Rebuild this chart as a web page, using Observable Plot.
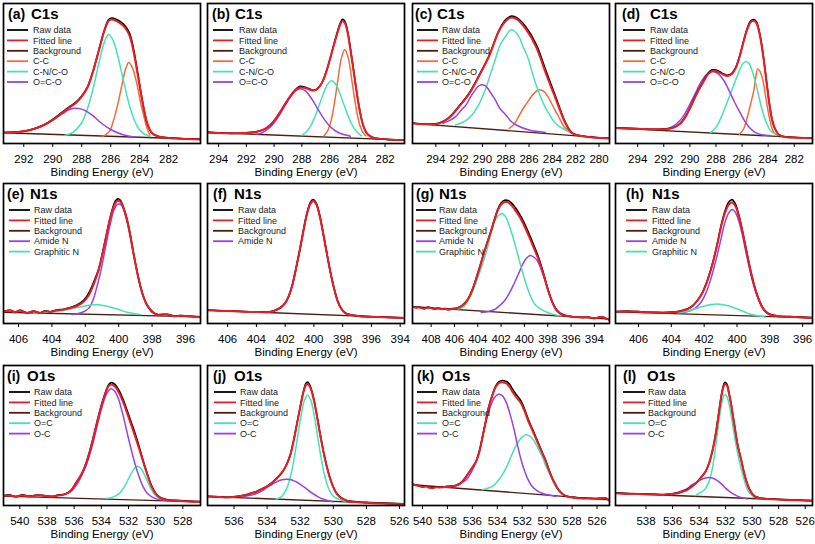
<!DOCTYPE html>
<html><head><meta charset="utf-8">
<script src="https://cdn.jsdelivr.net/npm/d3@7"></script>
<script src="https://cdn.jsdelivr.net/npm/@observablehq/plot@0.6"></script>
<style>
body{margin:0;background:#fff;}
#wrap{position:relative;width:815px;height:544px;overflow:hidden;background:#fff;}
#wrap svg{position:absolute;overflow:visible;}
</style></head><body><div id="wrap"></div>
<script>
// ---------- names ----------
const letters = ["(a)","(b)","(c)","(d)","(e)","(f)","(g)","(h)","(i)","(j)","(k)","(l)"];
const elements = ["C1s","C1s","C1s","C1s","N1s","N1s","N1s","N1s","O1s","O1s","O1s","O1s"];
const baseNames = ["Raw data","Fitted line","Background"];
const c1Names = ["C-C","C-N/C-O","O=C-O"];
const n1Names = ["Amide N","Graphitic N"];
const n1NamesF = ["Amide N"];
const o1Names = ["O=C","O-C"];

// ---------- (a) C1s ----------
const aRange = [293.4, 279.8];
const aTicks = [292,290,288,286,284,282];
const aBg = [[293.4,7.7],[279.8,3.0]];
const aRaw = [[293.4,7.9],[292.2,8.6],[291.3,10.6],[290.6,13.4],[290.0,17.2],[289.3,22.8],[288.8,26.6],[288.4,29.6],[288.0,34],[287.6,40.5],[287.2,52.5],[286.8,67.5],[286.45,80.5],[286.15,88.3],[285.95,89.6],[285.6,88.6],[285.3,86.8],[285.0,84],[284.7,78.8],[284.45,69],[284.2,54.5],[283.95,38.8],[283.7,24.3],[283.45,13.5],[283.15,7.4],[282.7,5],[282,4.1],[279.8,3.0]];
const aFit = [[293.4,7.7],[292.2,8.4],[291.3,10.4],[290.6,13.2],[290.0,16.8],[289.3,22.2],[288.8,26],[288.4,29],[288.0,33.5],[287.6,40],[287.2,52],[286.8,67],[286.45,80],[286.15,87.5],[285.95,88.6],[285.6,87.5],[285.3,85.5],[285.0,82.5],[284.7,77],[284.45,67],[284.2,53],[283.95,38],[283.7,24],[283.45,13.5],[283.15,7.5],[282.7,5],[282,4],[279.8,2.9]];
const aCC = [[286.6,4.8],[286.1,8.5],[285.8,16.7],[285.5,28.5],[285.2,43],[284.95,54],[284.75,57.9],[284.5,54],[284.2,43],[283.95,30],[283.7,19],[283.5,11],[283.3,6]];
const aCN = [[289.2,5.8],[288.6,8],[288.0,15],[287.6,25],[287.2,40],[286.8,58],[286.45,72],[286.15,77.8],[285.85,74],[285.5,62],[285.1,44],[284.7,27],[284.3,15],[283.9,8.5],[283.3,5]];
const aOCO = [[293.4,7.7],[292.2,8.4],[291.3,10.3],[290.6,13],[290.0,16.5],[289.3,21.5],[288.8,24.5],[288.4,25.2],[287.9,24.2],[287.3,20.5],[286.7,15],[286.0,10],[285.3,6.8],[284.4,4.6]];

// ---------- (b) C1s ----------
const bRange = [294.8, 280.6];
const bTicks = [294,292,290,288,286,284,282];
const bBg = [[294.8,7.9],[280.6,2.4]];
const bRaw = [[294.8,8.1],[293.5,7.3],[292.2,7.5],[291.3,8.3],[290.7,10.2],[290.3,13],[289.9,17.5],[289.5,23.5],[289.1,30],[288.7,35.8],[288.35,39.6],[288.1,40.8],[287.8,40.3],[287.5,39.2],[287.2,38],[286.95,38.6],[286.7,41],[286.45,45.5],[286.2,52.5],[285.95,61],[285.7,70.3],[285.45,79.3],[285.25,85.5],[285.06,88.7],[284.9,87.2],[284.7,80.3],[284.5,68],[284.3,54.6],[284.1,40.5],[283.9,27.8],[283.7,17.6],[283.5,10.8],[283.25,6.5],[282.9,4.3],[282.3,3.3],[280.6,2.4]];
const bFit = [[294.8,7.9],[293.5,7.3],[292.2,7.5],[291.3,8.3],[290.7,10.2],[290.3,13],[289.9,17.5],[289.5,23.5],[289.1,30],[288.7,35.5],[288.35,39],[288.1,40],[287.8,39.7],[287.5,38.8],[287.2,37.8],[286.95,38.5],[286.7,41],[286.45,45.5],[286.2,52.5],[285.95,61],[285.7,70],[285.45,78.5],[285.25,84.5],[285.06,87.5],[284.9,86],[284.7,79],[284.5,67],[284.3,54],[284.1,40],[283.9,27.5],[283.7,17.5],[283.5,10.8],[283.25,6.5],[282.9,4.3],[282.3,3.3],[280.6,2.4]];
const bCC = [[286.4,5.5],[286.15,8.8],[285.9,16],[285.65,29],[285.4,45.5],[285.15,61],[284.9,67],[284.65,61],[284.4,45.5],[284.15,29],[283.9,16],[283.65,8.8],[283.4,5.5]];
const bCN = [[288.0,5.8],[287.65,8.6],[287.35,12.8],[287.05,19.3],[286.75,27.3],[286.45,35.6],[286.15,42.1],[285.85,44.8],[285.55,42.1],[285.25,35.6],[284.95,27.3],[284.65,19.3],[284.35,12.8],[284.05,8.4],[283.7,5.5]];
const bOCO = [[291.3,6.6],[290.9,7.5],[290.5,9.9],[290.1,13.6],[289.7,19.0],[289.3,25.5],[288.9,32],[288.5,37.2],[288.1,39.1],[287.7,37.2],[287.3,32],[286.9,25.5],[286.5,19],[286.1,13.6],[285.7,9.9],[285.3,7.5],[284.9,6.2],[284.5,5.2]];

// ---------- (c) C1s ----------
const cRange = [296.0, 279.1];
const cTicks = [294,292,290,288,286,284,282,280];
const cBg = [[296.0,14.4],[279.1,3.6]];
const cRaw = [[296.0,14.6],[294.9,13.9],[293.7,14.6],[292.9,18.3],[292.0,26.8],[291.1,36.5],[290.3,48.5],[289.4,63.3],[288.6,80.5],[288.0,88.5],[287.5,91],[287.0,89.5],[286.3,83.5],[285.4,71],[284.6,53],[283.7,33],[282.9,15.3],[282.3,7.6],[281.1,5],[279.1,3.7]];
const cFit = [[296.0,14.4],[294.9,13.7],[293.7,14.4],[292.9,18],[292.0,26.4],[291.1,36],[290.3,48],[289.4,63],[288.6,80],[288.0,87.5],[287.5,90],[287.0,88.5],[286.3,82],[285.4,69],[284.6,51],[283.7,31.5],[282.9,14.8],[282.3,7.4],[281.1,4.8],[279.1,3.6]];
const cCC = [[287.7,10.8],[287.3,13.5],[286.9,19.2],[286.5,25],[286.0,31.2],[285.5,36.5],[285.1,38.4],[284.7,37],[284.4,33.6],[284.0,27.5],[283.7,22.8],[283.3,16.5],[283.0,12],[282.6,9],[282.3,7.2]];
const cCN = [[292.3,13.2],[291.5,16],[290.9,20.4],[290.3,28],[289.7,39.6],[289.3,50],[288.9,60],[288.5,70],[288.1,75.5],[287.5,81.5],[286.9,76.7],[286.5,69],[286.1,61.2],[285.7,50],[285.3,39.6],[284.8,29],[284.4,22.8],[283.9,16],[283.4,12],[282.3,7.2]];
const cOCO = [[293.4,14.4],[292.8,16.5],[292.3,19.2],[291.8,24],[291.4,27.6],[291.0,33.5],[290.7,37.2],[290.4,40.5],[290.1,42],[289.8,41.5],[289.6,40],[289.2,35],[288.9,31.2],[288.5,25],[288.0,20.4],[287.5,15.5],[287.1,13.2],[286.0,9.6],[284.6,7.9]];

// ---------- (d) C1s ----------
const dRange = [295.7, 280.6];
const dTicks = [294,292,290,288,286,284,282];
const dBg = [[295.7,11.0],[280.6,3.8]];
const dRaw = [[295.7,11.2],[294.5,10.8],[293.5,10.4],[292.5,10.2],[291.7,10.5],[291.2,11.6],[290.9,13.2],[290.6,15.8],[290.3,19.8],[290.0,25.3],[289.7,31.3],[289.3,39],[288.9,45.6],[288.6,50.3],[288.3,52.6],[288.0,52.4],[287.7,51.2],[287.4,49.6],[287.1,48.8],[286.8,50],[286.5,54],[286.2,62],[285.9,72.6],[285.6,82.3],[285.35,87.5],[285.1,88.6],[284.9,87],[284.7,81],[284.5,71],[284.3,57.6],[284.1,42.5],[283.9,28.3],[283.7,17.2],[283.5,11.1],[283.2,6.6],[282.8,4.9],[282.0,4.3],[280.6,3.9]];
const dFit = [[295.7,11],[294.5,10.6],[293.5,10.3],[292.5,10.1],[291.7,10.4],[291.2,11.5],[290.9,13],[290.6,15.5],[290.3,19.5],[290.0,25],[289.7,31],[289.3,38.5],[288.9,45],[288.6,49.5],[288.3,51.7],[288.0,51.6],[287.7,50.5],[287.4,49],[287.1,48.3],[286.8,49.5],[286.5,53.5],[286.2,61.5],[285.9,72],[285.6,81.5],[285.35,86.5],[285.1,87.6],[284.9,86],[284.7,80],[284.5,70],[284.3,57],[284.1,42],[283.9,28],[283.7,17],[283.5,11],[283.2,6.5],[282.8,4.8],[282.0,4.2],[280.6,3.8]];
const dCC = [[286.2,6.7],[285.9,10],[285.6,18.7],[285.35,28],[285.1,37.8],[284.95,47],[284.8,53.3],[284.6,51],[284.4,45],[284.2,34],[284.0,23],[283.8,14],[283.6,8.5],[283.3,5.5]];
const dCN = [[288.4,7.9],[288.0,11.5],[287.6,18.7],[287.2,28],[286.9,35.4],[286.5,45],[286.2,52.2],[285.95,57],[285.7,58.6],[285.45,57],[285.2,51],[284.9,41],[284.7,33],[284.4,22],[284.1,14],[283.8,9],[283.4,6.5]];
const dOCO = [[292.2,10.3],[291.6,11],[291.2,12.7],[290.8,16],[290.4,21],[290.0,28],[289.6,35.5],[289.2,43],[288.8,48.5],[288.4,51],[288.1,51],[287.8,49.5],[287.4,45],[287.0,38],[286.6,30],[286.2,23],[285.8,16],[285.4,11],[285.0,8],[284.5,6.3],[283.8,5.5]];

// ---------- (e) N1s ----------
const eRange = [406.9, 395.1];
const eTicks = [406,404,402,400,398,396];
const eBg = [[406.9,8.0],[395.1,4.7]];
const eRaw = [[406.9,8.5],[406.5,9.4],[406.2,8.2],[405.9,9.4],[405.5,7.7],[405.1,8.9],[404.7,7.7],[404.4,9],[404.1,8.4],[403.7,9.6],[403.3,10.2],[402.9,11.5],[402.5,13.2],[402.1,16.5],[401.8,21.5],[401.5,29.5],[401.2,39],[400.95,51.5],[400.7,65.5],[400.45,78.5],[400.2,87.5],[400.05,89],[399.9,88],[399.7,82.5],[399.5,74.5],[399.3,63],[399.1,49.5],[398.9,37.3],[398.7,26.8],[398.5,18.7],[398.3,13.2],[398.0,8.7],[397.7,6.4],[397.4,6.5],[397.1,6.6],[396.7,5.4],[396.3,5.7],[395.9,5.4],[395.1,4.7]];
const eFit = [[406.9,8.3],[406.5,9.2],[406.2,8],[405.9,9.2],[405.5,7.5],[405.1,8.7],[404.7,7.5],[404.4,8.8],[404.1,8.2],[403.7,9.4],[403.3,9.9],[402.9,11.1],[402.5,12.5],[402.1,15.5],[401.8,20],[401.5,28],[401.2,38],[400.95,51],[400.7,65],[400.45,78],[400.2,86],[400.05,87.7],[399.9,87],[399.7,82],[399.5,74],[399.3,62.5],[399.1,49],[398.9,37],[398.7,26.5],[398.5,18.5],[398.3,13],[398.0,8.5],[397.7,6.2],[397.4,6.3],[397.1,6.4],[396.7,5.2],[396.3,5.5],[395.9,5.2],[395.1,4.5]];
const eAmide = [[402.8,6.4],[402.3,7.5],[402.0,9],[401.75,11.5],[401.5,18],[401.3,26.4],[401.1,36],[400.9,47.6],[400.7,60],[400.5,71.2],[400.3,80.5],[400.1,84.9],[399.95,85.4],[399.8,84],[399.6,77.1],[399.4,67.5],[399.2,55],[399.0,43],[398.8,31],[398.6,22],[398.4,15.5],[398.2,11],[398.0,8],[397.7,6.6],[397.4,6.1]];
const eGraph = [[405.1,7.5],[404.1,8.3],[403.1,9.9],[402.3,11.8],[401.7,13.2],[401.2,13.4],[400.7,12.3],[400.1,10.4],[399.5,8],[398.7,6.4]];

// ---------- (f) N1s ----------
const fRange = [407.4, 393.7];
const fTicks = [406,404,402,400,398,396,394];
const fBg = [[407.4,9.5],[393.7,4.0]];
const fRaw = [[407.4,9.6],[406.3,9.1],[405.2,8.7],[404.2,8.3],[403.4,8.2],[402.9,8.7],[402.6,9.9],[402.3,11.6],[402.0,14.6],[401.75,19.6],[401.5,27.6],[401.25,39.2],[401.0,51.8],[400.75,65.5],[400.5,78],[400.25,86.5],[400.05,88.6],[399.85,86.3],[399.6,77.5],[399.35,64.3],[399.1,50.2],[398.85,36.6],[398.6,25.1],[398.35,16.1],[398.1,10.6],[397.8,7.4],[397.4,6.1],[396.8,5.3],[395.5,4.7],[393.7,4.0]];
const fFit = [[407.4,9.5],[406.3,9.0],[405.2,8.6],[404.2,8.2],[403.4,8.1],[402.9,8.6],[402.6,9.8],[402.3,11.5],[402.0,14.5],[401.75,19.5],[401.5,27.5],[401.25,39],[401.0,51.5],[400.75,65],[400.5,77.5],[400.25,85.5],[400.05,87.7],[399.85,85.5],[399.6,77],[399.35,64],[399.1,50],[398.85,36.5],[398.6,25],[398.35,16],[398.1,10.5],[397.8,7.3],[397.4,6],[396.8,5.2],[395.5,4.6],[393.7,3.9]];
const fAmide = [[402.9,8.4],[402.6,9.6],[402.3,11.2],[402.0,14.2],[401.75,19.2],[401.5,27.2],[401.25,38.7],[401.0,51.2],[400.75,64.7],[400.5,77.2],[400.25,85.2],[400.05,87.4],[399.85,85.2],[399.6,76.8],[399.35,63.9],[399.1,50],[398.85,36.6],[398.6,25.2],[398.35,16.3],[398.1,10.8],[397.8,7.6],[397.4,6.0],[397.0,5.3]];

// ---------- (g) N1s ----------
const gRange = [409.6, 392.7];
const gTicks = [408,406,404,402,400,398,396,394];
const gBg = [[409.6,12.0],[392.7,3.1]];
const gRaw = [[409.6,12.2],[409.3,11.4],[409.0,11.7],[408.6,10.7],[408.3,11.7],[408.0,11.2],[407.7,10.4],[407.4,11],[407.1,10.4],[406.8,10.7],[406.5,10],[406.2,10.6],[405.9,10.8],[405.6,11.7],[405.3,13.2],[405.0,15.7],[404.7,19.7],[404.4,25.7],[404.1,33.2],[403.8,41.2],[403.5,49.7],[403.2,57.7],[402.9,65.3],[402.6,73.5],[402.3,81.2],[402.0,86],[401.7,88],[401.4,87.8],[401.1,86],[400.8,83],[400.4,78],[400.0,71.5],[399.6,64],[399.2,56],[398.8,47.5],[398.4,37],[398.0,25],[397.6,15.3],[397.2,9.1],[396.7,6.1],[396.2,5.4],[395.7,4.7],[395.0,4.4],[394.5,4.6],[394.0,3.7],[393.6,4.5],[393.3,4.7],[393.0,3.6],[392.7,2.6]];
const gFit = [[409.6,12],[409.3,11.2],[409.0,11.5],[408.6,10.5],[408.3,11.5],[408.0,11],[407.7,10.2],[407.4,10.8],[407.1,10.2],[406.8,10.5],[406.5,9.8],[406.2,10.4],[405.9,10.6],[405.6,11.5],[405.3,13],[405.0,15.5],[404.7,19.5],[404.4,25.5],[404.1,33],[403.8,41],[403.5,49.5],[403.2,57.5],[402.9,65],[402.6,73],[402.3,80.5],[402.0,85],[401.7,86.8],[401.4,86.5],[401.1,84.4],[400.8,81],[400.4,76],[400.0,69.5],[399.6,62],[399.2,54],[398.8,46],[398.4,36],[398.0,24.5],[397.6,15],[397.2,9],[396.7,6],[396.2,5.3],[395.7,4.6],[395.0,4.3],[394.5,4.5],[394.0,3.6],[393.6,4.4],[393.3,4.6],[393.0,3.5],[392.7,2.5]];
const gAmide = [[403.7,7.9],[403.0,8.8],[402.5,10.3],[402.1,13],[401.7,16.3],[401.3,21.5],[400.9,28.2],[400.5,35.5],[400.2,41.4],[399.85,46.5],[399.5,48.6],[399.2,47.5],[398.9,45],[398.6,39.5],[398.2,30],[397.9,22],[397.5,13.5],[397.1,8.8],[396.7,6.6],[396.2,5.2],[395.6,4.3]];
const gGraph = [[405.7,10.3],[405.3,11.5],[405.0,13.9],[404.7,18.5],[404.3,25.8],[403.9,35],[403.5,45],[403.1,56],[402.8,66.5],[402.5,74],[402.2,77.3],[401.9,78.5],[401.6,76],[401.3,70],[400.9,59.3],[400.5,47],[400.2,37.8],[399.85,28],[399.5,19.9],[399.1,13.5],[398.6,10.3],[397.6,6.7],[396.8,5.5]];

// ---------- (h) N1s ----------
const hRange = [407.4, 395.4];
const hTicks = [406,404,402,400,398,396];
const hBg = [[407.4,8.3],[395.4,4.0]];
const hRaw = [[407.4,8.5],[406.5,8.8],[405.7,8.3],[405.0,8],[404.5,7.8],[404.0,8.1],[403.6,8.6],[403.3,9.4],[403.0,10.5],[402.7,12.7],[402.4,16.7],[402.1,22.3],[401.8,31],[401.5,42.5],[401.2,57],[400.95,71],[400.7,81.5],[400.5,86.8],[400.3,88.5],[400.1,85.5],[399.9,78],[399.7,68],[399.5,56.5],[399.3,45],[399.1,34.3],[398.9,25.2],[398.7,18.2],[398.5,12.7],[398.3,9.2],[398.0,6.6],[397.5,5.4],[396.5,4.8],[395.4,4.2]];
const hFit = [[407.4,8.3],[406.5,8.6],[405.7,8.1],[405.0,7.8],[404.5,7.6],[404.0,7.9],[403.6,8.4],[403.3,9.2],[403.0,10.3],[402.7,12.5],[402.4,16.5],[402.1,22],[401.8,30.5],[401.5,42],[401.2,56.5],[400.95,70],[400.7,80],[400.5,85],[400.3,86.5],[400.1,84],[399.9,77],[399.7,67.5],[399.5,56],[399.3,44.5],[399.1,34],[398.9,25],[398.7,18],[398.5,12.5],[398.3,9],[398.0,6.4],[397.5,5.2],[396.5,4.6],[395.4,4.0]];
const hAmide = [[403.6,7.6],[403.0,8.6],[402.6,10.5],[402.2,15],[401.9,21.5],[401.6,31.5],[401.3,44.5],[401.0,59],[400.75,71.5],[400.5,79],[400.3,81.5],[400.1,79.5],[399.9,73.5],[399.7,64.5],[399.5,53.5],[399.3,42.5],[399.1,32.5],[398.9,24],[398.7,17.3],[398.5,12],[398.3,8.8],[398.0,6.3],[397.6,5.4]];
const hGraph = [[403.6,7.6],[402.8,9.5],[402.2,11.8],[401.6,13.5],[401.2,14],[400.6,12.8],[399.9,10],[399.1,6.4],[398.3,4.7]];

// ---------- (i) O1s ----------
const iRange = [541.2, 526.7];
const iTicks = [540,538,536,534,532,530,528];
const iBg = [[541.2,6.7],[526.7,2.6]];
const iRaw = [[541.2,6.9],[540.8,7.6],[540.3,6.4],[539.8,7.6],[539.4,6.7],[539.1,7],[538.7,7.5],[538.3,7.2],[537.9,6.7],[537.6,6.5],[537.2,7.4],[536.8,7.8],[536.5,9],[536.2,11.2],[535.9,15.7],[535.5,21.7],[535.2,28.2],[534.9,37.2],[534.6,48.2],[534.3,60.3],[534.0,71.5],[533.7,80.7],[533.45,86.5],[533.25,87.8],[533.0,86.5],[532.7,82.2],[532.4,75.8],[532.1,67.8],[531.8,59.5],[531.5,51],[531.2,41.5],[530.9,31.5],[530.6,22.2],[530.3,14],[530.0,8.8],[529.7,6],[529.2,4.2],[528.2,3.5],[526.7,2.8]];
const iFit = [[541.2,6.7],[540.8,7.4],[540.3,6.2],[539.8,7.4],[539.4,6.5],[539.1,6.8],[538.7,7.3],[538.3,7.0],[537.9,6.5],[537.6,6.3],[537.2,7.2],[536.8,7.6],[536.5,8.8],[536.2,11],[535.9,15.5],[535.5,21.5],[535.2,28],[534.9,37],[534.6,48],[534.3,60],[534.0,71],[533.7,80],[533.45,85.5],[533.25,86.5],[533.0,85],[532.7,80.5],[532.4,74],[532.1,66],[531.8,57.5],[531.5,49],[531.2,40],[530.9,30.5],[530.6,21.5],[530.3,13.5],[530.0,8.5],[529.7,5.8],[529.2,4],[528.2,3.3],[526.7,2.6]];
const iOeqC = [[533.6,5],[533.1,6.2],[532.7,8.5],[532.3,13.5],[532.0,19],[531.7,24.5],[531.4,28],[531.1,26.5],[530.8,21.5],[530.5,15],[530.2,9.5],[529.9,6.2],[529.4,4.3]];
const iOC = [[537.1,7.4],[536.6,8.2],[536.3,9.5],[536.0,12.5],[535.7,16.5],[535.4,22.5],[535.1,29],[534.8,38],[534.5,49],[534.2,61],[533.9,72],[533.6,80],[533.3,83.4],[533.0,81.5],[532.7,75],[532.4,64.4],[532.1,52],[531.8,40],[531.5,29],[531.2,20],[530.9,13],[530.6,8.5],[530.2,5.6],[529.7,4.2],[529.3,3.8]];

// ---------- (j) O1s ----------
const jRange = [537.6, 525.7];
const jTicks = [536,534,532,530,528,526];
const jBg = [[537.6,6.4],[525.7,1.0]];
const jRaw = [[537.6,6.6],[536.9,6.2],[536.4,5.9],[535.9,6.4],[535.4,7.3],[535.0,8.7],[534.6,10.2],[534.3,12],[534.0,13.8],[533.7,16.4],[533.4,19.7],[533.1,23.7],[532.85,28.7],[532.6,36.3],[532.4,46.3],[532.2,58.3],[532.0,70.5],[531.8,81.8],[531.65,87.3],[531.55,88.2],[531.4,85.5],[531.2,77.2],[531.0,65],[530.8,51.4],[530.6,38.8],[530.4,28.2],[530.2,19.7],[530.0,13.2],[529.8,8.7],[529.6,6.2],[529.3,4.2],[529.0,3.1],[528.0,2.2],[525.7,1.2]];
const jFit = [[537.6,6.4],[536.9,6.0],[536.4,5.7],[535.9,6.2],[535.4,7.1],[535.0,8.5],[534.6,10],[534.3,11.8],[534.0,13.6],[533.7,16.2],[533.4,19.5],[533.1,23.5],[532.85,28.5],[532.6,36],[532.4,46],[532.2,58],[532.0,70],[531.8,81],[531.65,86],[531.55,86.7],[531.4,84.5],[531.2,76.5],[531.0,64.5],[530.8,51],[530.6,38.5],[530.4,28],[530.2,19.5],[530.0,13],[529.8,8.5],[529.6,6],[529.3,4],[529.0,2.9],[528.0,2],[525.7,1.0]];
const jOeqC = [[533.45,4.5],[533.15,6.2],[532.95,9],[532.75,14.1],[532.55,22.7],[532.35,34.8],[532.15,49.5],[531.95,64],[531.75,75],[531.55,79],[531.35,75],[531.15,64],[530.95,49.5],[530.75,34.8],[530.55,22.7],[530.35,14.1],[530.15,9],[529.95,6.2],[529.65,4.5],[529.3,3]];
const jOC = [[535.4,6.4],[535.0,7.3],[534.6,8.8],[534.3,10.5],[534.0,12.9],[533.7,15],[533.4,17.1],[533.1,18.4],[532.8,18.8],[532.5,18.2],[532.2,16.6],[531.9,14.3],[531.6,11.7],[531.3,9],[531.0,6.8],[530.6,4.5],[530.0,2.6]];

// ---------- (k) O1s ----------
const kRange = [540.8, 525.0];
const kTicks = [540,538,536,534,532,530,528,526];
const kBg = [[540.8,14.8],[525.0,4.0]];
const kRaw = [[540.8,15.4],[540.5,14.6],[540.3,14.2],[540.0,13.5],[539.7,13.8],[539.4,12.8],[539.2,12.6],[538.9,13.3],[538.7,13.1],[538.3,13.4],[537.9,13.8],[537.6,13.9],[537.3,14.5],[537.0,15.7],[536.8,17.3],[536.5,20.7],[536.3,23.3],[536.0,27.2],[535.7,31.6],[535.45,38.2],[535.2,48.3],[534.95,59.2],[534.7,69.8],[534.4,79],[534.1,85.8],[533.85,88.5],[533.6,89.3],[533.4,89],[533.2,88.2],[533.0,86.5],[532.8,83.5],[532.5,79.5],[532.1,74.8],[531.8,68.5],[531.5,61.2],[531.15,54],[530.8,46.5],[530.45,39],[530.1,31.8],[529.85,25.3],[529.6,19.7],[529.35,15.2],[529.1,11.4],[528.75,8.2],[528.4,6.6],[527.9,5.8],[527.5,5.4],[526.8,5.2],[526.1,5],[525.7,5.2],[525.3,5.4],[525.0,3.5]];
const kFit = [[540.8,15.2],[540.5,14.4],[540.3,14],[540.0,13.3],[539.7,13.6],[539.4,12.6],[539.2,12.4],[538.9,13.1],[538.7,12.9],[538.3,13.2],[537.9,13.6],[537.6,13.7],[537.3,14.3],[537.0,15.5],[536.8,17.1],[536.5,20.5],[536.3,23.1],[536.0,27],[535.7,31.4],[535.45,38],[535.2,48.1],[534.95,59],[534.7,69.5],[534.4,78.5],[534.1,85],[533.85,87.5],[533.6,88.1],[533.4,87.6],[533.2,86.7],[533.0,84.5],[532.8,81.4],[532.5,77.5],[532.1,73.1],[531.8,67],[531.5,60],[531.15,53],[530.8,45.7],[530.45,38.5],[530.1,31.4],[529.85,25],[529.6,19.5],[529.35,15],[529.1,11.2],[528.75,8],[528.4,6.4],[527.9,5.6],[527.5,5.2],[526.8,5.0],[526.1,4.8],[525.7,5.0],[525.3,5.2],[525.0,3.3]];
const kOeqC = [[535.2,11.2],[534.4,13.6],[534.0,17],[533.6,21.9],[533.2,28.5],[532.9,35],[532.6,41],[532.3,45.7],[532.0,49],[531.7,50.5],[531.4,49.5],[531.1,46.9],[530.8,42],[530.4,35],[530.1,28],[529.7,20.7],[529.4,15],[529.1,11.2],[528.7,8],[528.3,6.4],[527.5,5.2]];
const kOC = [[538.4,12.9],[537.3,14.3],[536.9,16],[536.5,18.3],[536.1,23.5],[535.7,31.4],[535.4,40.5],[535.1,52.9],[534.8,63.5],[534.5,72],[534.2,77.5],[533.9,79.5],[533.6,78.5],[533.3,74],[533.0,66],[532.7,56],[532.4,44],[532.1,33],[531.8,24.3],[531.5,18],[531.2,13.6],[530.8,10.5],[530.4,8.8],[529.3,6.4]];

// ---------- (l) O1s ----------
const lRange = [540.3, 525.45];
const lTicks = [538,536,534,532,530,528,526];
const lBg = [[540.3,8.8],[525.45,3.3]];
const lRaw = [[540.3,9],[539.2,8.5],[538.1,8.3],[537.2,8],[536.6,7.8],[536.1,8.4],[535.6,9],[535.2,10.2],[534.9,11.4],[534.5,14],[534.1,17.3],[533.8,20.7],[533.5,24.5],[533.25,30.2],[533.0,38.8],[532.8,48.3],[532.6,60.4],[532.45,70.5],[532.3,79.8],[532.15,86.3],[532.05,88],[531.9,86.6],[531.75,80.6],[531.6,73.4],[531.45,64.3],[531.3,55.5],[531.1,43.8],[530.8,31.6],[530.55,21.2],[530.3,13.8],[530.05,9.2],[529.8,6.6],[529.4,5.3],[529.1,5],[527.5,4.2],[525.45,3.5]];
const lFit = [[540.3,8.8],[539.2,8.3],[538.1,8.1],[537.2,7.8],[536.6,7.6],[536.1,8.2],[535.6,8.8],[535.2,10],[534.9,11.2],[534.5,13.8],[534.1,17.1],[533.8,20.5],[533.5,24.3],[533.25,30],[533.0,38.6],[532.8,48],[532.6,60],[532.45,70],[532.3,79],[532.15,85],[532.05,86.7],[531.9,85.7],[531.75,80],[531.6,73],[531.45,64],[531.3,55.2],[531.1,43.5],[530.8,31.4],[530.55,21],[530.3,13.6],[530.05,9],[529.8,6.4],[529.4,5.1],[529.1,4.8],[527.5,4],[525.45,3.3]];
const lOeqC = [[534.3,7.1],[533.6,11.2],[533.3,16],[533.1,21.9],[532.9,32],[532.7,45.7],[532.55,57],[532.4,67.1],[532.25,75],[532.1,79],[531.95,78.5],[531.8,75],[531.65,68],[531.5,59.5],[531.35,50.5],[531.15,40],[530.9,29],[530.6,18.5],[530.4,12.4],[530.15,8.5],[529.9,6.4],[529.3,4.8]];
const lOC = [[536.1,7.6],[535.4,10],[534.9,12],[534.6,14.3],[534.2,16.5],[533.9,18.3],[533.6,19.5],[533.3,20],[533.0,19.6],[532.6,17.6],[532.3,15.3],[532.0,12.4],[531.7,10],[531.3,7.6],[530.9,6],[530.4,4.8]];

// ---------- styling & layout ----------
const RED = "#ec1c24", BLACK = "#000000", BROWN = "#4b1f0f";
const ORANGE = "#f36a3c", GREEN = "#44e3b2", PURPLE = "#9b40e3";
const FONT = "'Liberation Sans', Arial, Helvetica, sans-serif";

const colX = [3, 207, 412, 615];
const rowY = [3, 183, 365];
const W = 197, H = 140;
const mL = 2, mR = 2, mT = 2, mB = 42;

const panels = [
  {range:aRange, ticks:aTicks, bg:aBg, raw:aRaw, fit:aFit, comps:[aCC,aCN,aOCO], names:c1Names, cols:[ORANGE,GREEN,PURPLE], tx:[5,28], lx:[4,25,30]},
  {range:bRange, ticks:bTicks, bg:bBg, raw:bRaw, fit:bFit, comps:[bCC,bCN,bOCO], names:c1Names, cols:[ORANGE,GREEN,PURPLE], tx:[5,28], lx:[6,26,32]},
  {range:cRange, ticks:cTicks, bg:cBg, raw:cRaw, fit:cFit, comps:[cCC,cCN,cOCO], names:c1Names, cols:[ORANGE,GREEN,PURPLE], tx:[3,25], lx:[5,26,30]},
  {range:dRange, ticks:dTicks, bg:dBg, raw:dRaw, fit:dFit, comps:[dCC,dCN,dOCO], names:c1Names, cols:[ORANGE,GREEN,PURPLE], tx:[7,35], lx:[8,30,35]},
  {range:eRange, ticks:eTicks, bg:eBg, raw:eRaw, fit:eFit, comps:[eAmide,eGraph], names:n1Names, cols:[PURPLE,GREEN], tx:[4,27], lx:[6,27,31]},
  {range:fRange, ticks:fTicks, bg:fBg, raw:fRaw, fit:fFit, comps:[fAmide], names:n1NamesF, cols:[PURPLE], tx:[6,27], lx:[6,26,31]},
  {range:gRange, ticks:gTicks, bg:gBg, raw:gRaw, fit:gFit, comps:[gAmide,gGraph], names:n1Names, cols:[PURPLE,GREEN], tx:[4,27], lx:[4,24,27]},
  {range:hRange, ticks:hTicks, bg:hBg, raw:hRaw, fit:hFit, comps:[hAmide,hGraph], names:n1Names, cols:[PURPLE,GREEN], tx:[11,37], lx:[11,32,37]},
  {range:iRange, ticks:iTicks, bg:iBg, raw:iRaw, fit:iFit, comps:[iOeqC,iOC], names:o1Names, cols:[GREEN,PURPLE], tx:[4,24], lx:[6,27,31]},
  {range:jRange, ticks:jTicks, bg:jBg, raw:jRaw, fit:jFit, comps:[jOeqC,jOC], names:o1Names, cols:[GREEN,PURPLE], tx:[6,27], lx:[7,29,33]},
  {range:kRange, ticks:kTicks, bg:kBg, raw:kRaw, fit:kFit, comps:[kOeqC,kOC], names:o1Names, cols:[GREEN,PURPLE], tx:[5,30], lx:[5,25,30]},
  {range:lRange, ticks:lTicks, bg:lBg, raw:lRaw, fit:lFit, comps:[lOeqC,lOC], names:o1Names, cols:[GREEN,PURPLE], tx:[8,32], lx:[8,30,33]}
];

const wrap = document.getElementById("wrap");
const px = d => d[0], py = d => d[1];

panels.forEach((p, idx) => {
  const col = idx % 4, row = Math.floor(idx / 4);
  const lineOpts = (stroke, w) => ({x: px, y: py, stroke, strokeWidth: w, curve: "catmull-rom", clip: true});
  const marks = [
    Plot.line(p.bg, lineOpts(BROWN, 1.4)),
    ...p.comps.map((c, k) => Plot.line(c, lineOpts(p.cols[k], 1.5))),
    Plot.line(p.raw, lineOpts(BLACK, 1.6)),
    Plot.line(p.fit, lineOpts(RED, 2)),
    Plot.axisX({ticks: p.ticks, tickSize: 4, tickPadding: 7, fontSize: 11.5, label: null, tickFormat: d => String(d)}),
    Plot.text(["Binding Energy (eV)"], {frameAnchor: "bottom", dy: 32, fontSize: 11.5, fill: "#000"}),
    Plot.frame({stroke: "#000", strokeWidth: 1.7})
  ];
  const svg = Plot.plot({
    width: W + mL + mR, height: H + mT + mB,
    marginLeft: mL, marginRight: mR, marginTop: mT, marginBottom: mB,
    x: {domain: p.range, label: null},
    y: {domain: [0, 100], axis: null},
    style: {fontFamily: FONT, fontSize: "11px", color: "#000", background: "transparent", overflow: "visible"},
    marks
  });
  svg.style.left = (colX[col] - mL) + "px";
  svg.style.top = (rowY[row] - mT) + "px";
  wrap.appendChild(svg);

  const g = d3.select(svg).append("g").attr("font-family", FONT).attr("text-anchor", "start");
  g.append("text").attr("x", mL + p.tx[0]).attr("y", mT + 16).attr("text-anchor", "start").attr("font-size", 14).attr("font-weight", "bold").attr("fill", "#000").text(letters[idx]);
  g.append("text").attr("x", mL + p.tx[1]).attr("y", mT + 16).attr("text-anchor", "start").attr("font-size", 15).attr("font-weight", "bold").attr("fill", "#000").text(elements[idx]);
  const rows = baseNames.map((t, k) => ({t, c: [BLACK, RED, BROWN][k]}))
    .concat(p.names.map((t, k) => ({t, c: p.cols[k]})));
  rows.forEach((r, k) => {
    const cy = mT + 27 + k * 10.4;
    g.append("line").attr("x1", mL + p.lx[0]).attr("x2", mL + p.lx[1]).attr("y1", cy).attr("y2", cy)
      .attr("stroke", r.c).attr("stroke-width", 1.8);
    g.append("text").attr("x", mL + p.lx[2]).attr("y", cy + 3.2).attr("text-anchor", "start").attr("font-size", 9).attr("fill", "#222").text(r.t);
  });
});
</script>
</body></html>
